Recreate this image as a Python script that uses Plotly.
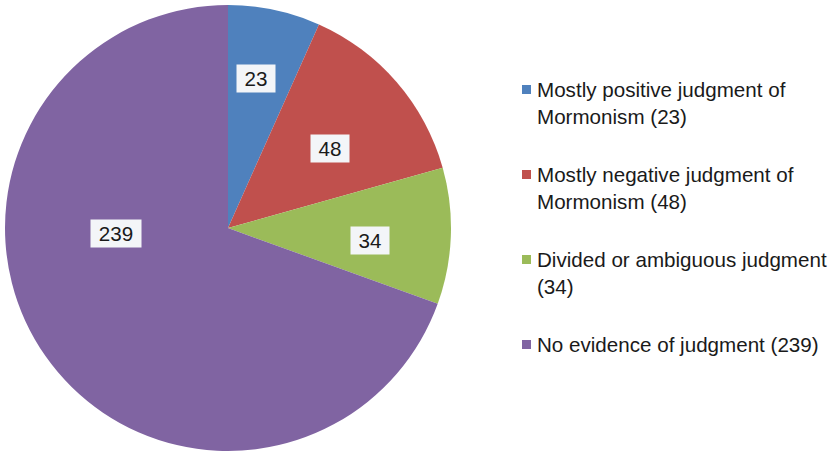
import math
import plotly.graph_objects as go

# ── Data ──────────────────────────────────────────────────────
CATEGORIES = [
    "Mostly positive judgment of Mormonism",
    "Mostly negative judgment of Mormonism",
    "Divided or ambiguous judgment",
    "No evidence of judgment",
]
COUNTS = [23, 48, 34, 239]
LEGEND_TEXT = [
    "Mostly positive judgment of<br>Mormonism (23)",
    "Mostly negative judgment of<br>Mormonism (48)",
    "Divided or ambiguous judgment<br>(34)",
    "No evidence of judgment (239)",
]

# ── Style ─────────────────────────────────────────────────────
COLORS = ["#4F81BD", "#C0504D", "#9BBB59", "#8064A2"]
W, H = 834, 454
CX, CY, R = 228, 228, 223           # pie centre / radius in px
LABEL_R = [0.684, 0.581, 0.639, 0.503]   # label distance (fraction of R)
LABEL_DA = [-1.4, 2.7, 3.1, 32.0]        # label angle tweak (deg)
FONT = "Liberation Sans, Arial, sans-serif"
FS = 20.6


def px(x, y):
    return x / W, 1 - y / H


fig = go.Figure(go.Pie(
    labels=CATEGORIES, values=COUNTS,
    sort=False, direction="clockwise", rotation=0,
    marker=dict(colors=COLORS, line=dict(width=0)),
    textinfo="none", hoverinfo="label+value",
    domain=dict(x=[(CX - R) / W, (CX + R) / W],
                y=[1 - (CY + R) / H, 1 - (CY - R) / H]),
    showlegend=False,
))

# data labels with boxes
total = sum(COUNTS)
cum = 0
annotations = []
shapes = []
for i, v in enumerate(COUNTS):
    mid = (cum + v / 2) / total * 360 + LABEL_DA[i]
    cum += v
    a = math.radians(mid)
    lx = CX + LABEL_R[i] * R * math.sin(a)
    ly = CY - LABEL_R[i] * R * math.cos(a)
    x, y = px(lx, ly)
    annotations.append(dict(
        x=x, y=y, xref="paper", yref="paper", showarrow=False,
        text=str(v), font=dict(family=FONT, size=FS, color="#1a1a1a"),
        bgcolor="#F3F5F8", borderpad=2,
        width=12 * len(str(v)) + 10,
        xanchor="center", yanchor="middle",
    ))

# custom legend
LEG_X, LEG_Y0, LEG_STEP = 522, 85, 85
for i, txt in enumerate(LEGEND_TEXT):
    top = LEG_Y0 + i * LEG_STEP
    x0, y0 = px(LEG_X, top)
    x1, y1 = px(LEG_X + 9, top + 9)
    shapes.append(dict(type="rect", xref="paper", yref="paper",
                       x0=x0, x1=x1, y0=y1, y1=y0,
                       fillcolor=COLORS[i], line=dict(width=0)))
    tx, ty = px(LEG_X + 13, top - 9)
    annotations.append(dict(
        x=tx, y=ty, xref="paper", yref="paper", showarrow=False,
        text=txt, align="left", xanchor="left", yanchor="top",
        font=dict(family=FONT, size=FS, color="#1a1a1a"),
    ))

fig.update_layout(
    width=W, height=H, margin=dict(l=0, r=0, t=0, b=0),
    paper_bgcolor="white", plot_bgcolor="white",
    annotations=annotations, shapes=shapes,
)
fig.write_html(
    "out.html",
    config={"displayModeBar": False},
    post_script="document.body.style.margin='0';document.body.style.overflow='hidden';",
)
